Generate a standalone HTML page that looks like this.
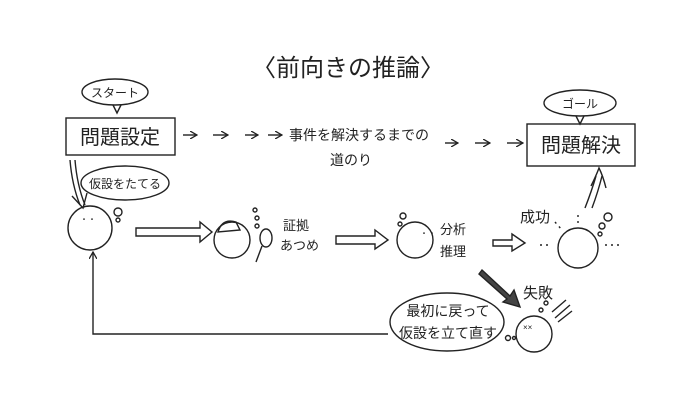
<!DOCTYPE html>
<html><head><meta charset="utf-8"><style>
html,body{margin:0;padding:0;background:#fff;}
svg{display:block;font-family:"Liberation Sans","Noto Sans CJK JP",sans-serif;}
</style></head><body>
<svg width="700" height="400" viewBox="0 0 700 400" xmlns="http://www.w3.org/2000/svg">
<defs>
<marker id="ah" markerWidth="8" markerHeight="8" refX="7" refY="4" orient="auto" markerUnits="userSpaceOnUse">
<path d="M0,0 L7,4 L0,8" fill="none" stroke="#222" stroke-width="1.3"/></marker>
</defs>
<g fill="none" stroke="#222" stroke-width="1.4">
<text x="252" y="76" font-size="24" fill="#222" stroke="none">〈前向きの推論〉</text>
<ellipse cx="115" cy="92" rx="33" ry="13"/>
<path d="M113,105 L117,113 L121,105"/>
<text x="115" y="97" font-size="12" fill="#222" stroke="none" text-anchor="middle">スタート</text>
<rect x="66" y="118" width="109" height="37"/>
<text x="120" y="144" font-size="20" fill="#222" stroke="none" text-anchor="middle">問題設定</text>
<line x1="183" y1="135" x2="197" y2="135" marker-end="url(#ah)"/>
<line x1="213" y1="135" x2="228" y2="135" marker-end="url(#ah)"/>
<line x1="245" y1="135" x2="258" y2="135" marker-end="url(#ah)"/>
<line x1="268" y1="135" x2="282" y2="135" marker-end="url(#ah)"/>
<text x="289" y="140" font-size="14" fill="#222" stroke="none">事件を解決するまでの</text>
<text x="330" y="165" font-size="14" fill="#222" stroke="none">道のり</text>
<line x1="445" y1="143" x2="458" y2="143" marker-end="url(#ah)"/>
<line x1="475" y1="143" x2="490" y2="143" marker-end="url(#ah)"/>
<line x1="507" y1="143" x2="523" y2="143" marker-end="url(#ah)"/>
<ellipse cx="580" cy="103" rx="36" ry="13"/>
<path d="M576,116 L580,124 L584,116"/>
<text x="580" y="108" font-size="12" fill="#222" stroke="none" text-anchor="middle">ゴール</text>
<rect x="527" y="124" width="108" height="42"/>
<text x="581" y="152" font-size="20" fill="#222" stroke="none" text-anchor="middle">問題解決</text>
<path d="M70,160 Q72,185 80,205"/><path d="M75,160 Q77,185 85,205"/>
<path d="M72,196 L83,208 L87,193"/>
<ellipse cx="125" cy="183" rx="44" ry="17"/>
<text x="125" y="188" font-size="12" fill="#222" stroke="none" text-anchor="middle">仮設をたてる</text>
<circle cx="90" cy="228" r="22"/>
<circle cx="118" cy="212" r="4"/><circle cx="118" cy="220" r="2"/>
<text x="80" y="222" font-size="8" fill="#222" stroke="none">・・</text>
<path d="M136,228 L200,228 L200,222 L212,232 L200,242 L200,236 L136,236 Z"/>
<circle cx="232" cy="240" r="18"/>
<path d="M218,232 Q222,218 236,222 L240,230 Z"/>
<circle cx="255" cy="210" r="2"/><circle cx="257" cy="218" r="2"/><circle cx="257" cy="226" r="2"/>
<ellipse cx="266" cy="238" rx="6" ry="9"/>
<line x1="262" y1="246" x2="256" y2="262"/>
<text x="283" y="230" font-size="13" fill="#222" stroke="none">証拠</text>
<text x="280" y="250" font-size="13" fill="#222" stroke="none">あつめ</text>
<path d="M336,236 L375,236 L375,230 L388,240 L375,249 L375,244 L336,244 Z"/>
<circle cx="415" cy="240" r="18"/>
<circle cx="403" cy="216" r="3"/><circle cx="400" cy="224" r="2"/>
<text x="420" y="236" font-size="8" fill="#222" stroke="none">・・</text>
<text x="440" y="234" font-size="13" fill="#222" stroke="none">分析</text>
<text x="440" y="256" font-size="13" fill="#222" stroke="none">推理</text>
<path d="M493,240 L512,240 L512,234 L525,243 L512,251 L512,246 L493,246 Z"/>
<circle cx="578" cy="248" r="20"/>
<text x="520" y="222" font-size="15" fill="#222" stroke="none">成功</text>
<circle cx="608" cy="217" r="4"/><circle cx="602" cy="226" r="3"/><circle cx="600" cy="234" r="2"/>
<path d="M585,208 Q592,190 596,176"/><path d="M592,208 Q598,192 602,176"/>
<path d="M591,186 Q596,176 599,168 Q603,176 606,188"/>
<g stroke-dasharray="2 4"><line x1="540" y1="245" x2="552" y2="245"/><line x1="605" y1="245" x2="620" y2="245"/><line x1="555" y1="222" x2="562" y2="230"/><line x1="578" y1="215" x2="578" y2="225"/></g>
<path d="M482,270 L510,296 L514,290 L520,307 L503,302 L507,299 L479,274 Z" fill="#444"/>
<text x="523" y="298" font-size="15" fill="#222" stroke="none">失敗</text>
<circle cx="534" cy="334" r="18"/>
<text x="523" y="330" font-size="8" fill="#222" stroke="none">××</text>
<circle cx="546" cy="303" r="2"/><circle cx="541" cy="310" r="2"/>
<path d="M552,312 L566,300 M555,318 L570,305 M558,322 L572,311"/>
<ellipse cx="447" cy="322" rx="57" ry="29"/>
<text x="448" y="316" font-size="14" fill="#222" stroke="none" text-anchor="middle">最初に戻って</text>
<text x="448" y="338" font-size="14" fill="#222" stroke="none" text-anchor="middle">仮設を立て直す</text>
<circle cx="508" cy="338" r="2.5"/><circle cx="514" cy="338" r="1.5"/>
<path d="M388,334 L93,334 L93,252" marker-end="url(#ah)"/>
</g>
</svg>
</body></html>
